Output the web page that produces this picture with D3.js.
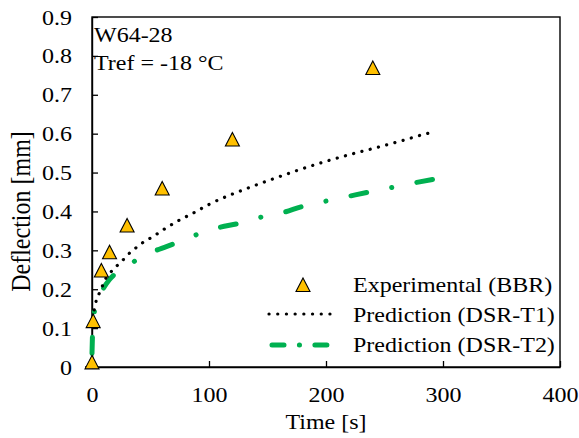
<!doctype html>
<html>
<head>
<script src="https://d3js.org/d3.v7.min.js"></script>
<style>
  body { margin: 0; background: #fff; }
  text { font-family: "Liberation Serif", "Times New Roman", serif; fill: #000; font-size: 20px; }
</style>
</head>
<body>
<svg width="579" height="438"></svg>
<script>
// experimental BBR points
var expTime = [0, 1, 8, 15, 30, 60, 120, 240];
var expDefl = [0.012, 0.118, 0.248, 0.295, 0.364, 0.459, 0.585, 0.769];

// DSR-T1 prediction
var t1Time = [0.5, 1, 4, 7.6, 10, 14.5, 19, 25, 30, 35, 42, 48, 55, 61, 73, 86, 100, 135, 156, 178, 199, 220, 243, 265, 286, 294];
var t1Defl = [0.125, 0.133, 0.175, 0.197, 0.218, 0.238, 0.254, 0.27, 0.287, 0.30, 0.317, 0.328, 0.341, 0.353, 0.375, 0.395, 0.418, 0.462, 0.485, 0.508, 0.528, 0.546, 0.564, 0.582, 0.60, 0.605];

// DSR-T2 prediction
var t2Time = [0, 0.4, 1.2, 2.6, 9.4, 15, 22, 37.6, 55, 71, 90, 109, 125, 144, 163, 180, 199, 218, 235, 255, 273, 291];
var t2Defl = [0.035, 0.08, 0.12, 0.15, 0.20, 0.225, 0.245, 0.274, 0.30, 0.318, 0.341, 0.359, 0.369, 0.385, 0.397, 0.413, 0.426, 0.438, 0.449, 0.461, 0.472, 0.482];

var xTicks = [0, 100, 200, 300, 400];
var yTicks = [0, 0.1, 0.2, 0.3, 0.4, 0.5, 0.6, 0.7, 0.8, 0.9];

var svg = d3.select("svg");
var pLeft = 92, pRight = 560, pTop = 17, pBottom = 367;
var sx = 1.2; // the original picture is stretched sideways

var x = d3.scaleLinear().domain([0, 400]).range([pLeft, pRight]);
var y = d3.scaleLinear().domain([0, 0.9]).range([pBottom, pTop]);

// frame
svg.append("rect")
   .attr("x", pLeft).attr("y", pTop)
   .attr("width", pRight - pLeft).attr("height", pBottom - pTop)
   .attr("fill", "none").attr("stroke", "#000").attr("stroke-width", 1.4);
svg.append("line").attr("x1", pLeft - 7).attr("x2", pLeft).attr("y1", pBottom).attr("y2", pBottom)
   .attr("stroke", "#000").attr("stroke-width", 1.4);

var xAxis = svg.append("g")
   .attr("transform", "translate(0," + pBottom + ")")
   .call(d3.axisBottom(x).tickValues(xTicks).tickSizeInner(-6).tickSizeOuter(0)
         .tickFormat(d3.format("d")));
var yAxis = svg.append("g")
   .attr("transform", "translate(" + pLeft + ",0)")
   .call(d3.axisLeft(y).tickValues(yTicks).tickSizeInner(-6).tickSizeOuter(0)
         .tickFormat(function(d) { return d === 0 ? "0" : d3.format(".1f")(d); }));

svg.selectAll(".domain").attr("stroke", "#000").attr("stroke-width", 1.4);
svg.selectAll(".tick line").attr("stroke", "#000").attr("stroke-width", 1.3);
svg.selectAll(".tick text").attr("font-family", null).attr("font-size", null).attr("fill", "#000");
xAxis.selectAll(".tick text").attr("dy", null).attr("y", 0)
   .attr("transform", "translate(0,35) scale(" + sx + ",1)");
yAxis.selectAll(".tick text").attr("x", 0).attr("dy", "0.35em")
   .attr("transform", "translate(-20,0) scale(" + sx + ",1)");

function label(px, py, str, anchor) {
  return svg.append("text")
     .attr("transform", "translate(" + px + "," + py + ") scale(" + sx + ",1)")
     .attr("text-anchor", anchor || "start")
     .text(str);
}

// axis titles
label(326, 429, "Time [s]", "middle");
svg.append("text")
   .attr("transform", "translate(29.5,211.5) scale(1.1,1) rotate(-90)")
   .attr("text-anchor", "middle")
   .style("font-size", "24px")
   .text("Deflection [mm]");

// annotation
label(94, 42, "W64-28");
label(94, 70, "Tref = -18 \u00b0C");

var line = d3.line().x(function(d) { return x(d[0]); }).y(function(d) { return y(d[1]); }).curve(d3.curveMonotoneX);

// dash-dot pattern fitted so the line starts and ends on a dash
var t2 = svg.append("path")
   .datum(d3.zip(t2Time, t2Defl))
   .attr("d", line)
   .attr("fill", "none")
   .attr("stroke", "#00b050")
   .attr("stroke-width", 5)
   .attr("stroke-linecap", "round");
var L2 = t2.node().getTotalLength();
var n2 = Math.round((L2 - 16) / 66);
var g2 = ((L2 - 16) / n2 - 16 - 0.1) / 2;
t2.attr("stroke-dasharray", "16 " + g2 + " 0.1 " + g2);

var t1 = svg.append("path")
   .datum(d3.zip(t1Time, t1Defl))
   .attr("d", line)
   .attr("fill", "none")
   .attr("stroke", "#000")
   .attr("stroke-width", 3.2)
   .attr("stroke-linecap", "round");
var L1 = t1.node().getTotalLength();
var n1 = Math.round(L1 / 8.5);
t1.attr("stroke-dasharray", "0.1 " + (L1 / n1 - 0.1));

// triangle markers, bbox-centred on data point
function tri(cx, cy) {
  return "M" + cx + "," + (cy - 7) + "L" + (cx + 7) + "," + (cy + 6.5) + "L" + (cx - 7) + "," + (cy + 6.5) + "Z";
}
svg.selectAll(".pt")
   .data(d3.zip(expTime, expDefl))
   .enter().append("path")
   .attr("class", "pt")
   .attr("d", function(d) { return tri(x(d[0]), y(d[1])); })
   .attr("fill", "#ffc000")
   .attr("stroke", "#000")
   .attr("stroke-width", 1.1);

// legend
svg.append("path").attr("d", tri(303, 285)).attr("fill", "#ffc000").attr("stroke", "#000").attr("stroke-width", 1.1);
label(353, 292, "Experimental (BBR)");
svg.append("line").attr("x1", 269).attr("x2", 330).attr("y1", 314).attr("y2", 314)
   .attr("stroke", "#000").attr("stroke-width", 3.2).attr("stroke-linecap", "round").attr("stroke-dasharray", "0.1 8.6");
label(353, 322, "Prediction (DSR-T1)");
svg.append("line").attr("x1", 272).attr("x2", 327).attr("y1", 345).attr("y2", 345)
   .attr("stroke", "#00b050").attr("stroke-width", 5).attr("stroke-linecap", "round").attr("stroke-dasharray", "12 15.4 0.1 15.4");
label(353, 352, "Prediction (DSR-T2)");
</script>
</body>
</html>
